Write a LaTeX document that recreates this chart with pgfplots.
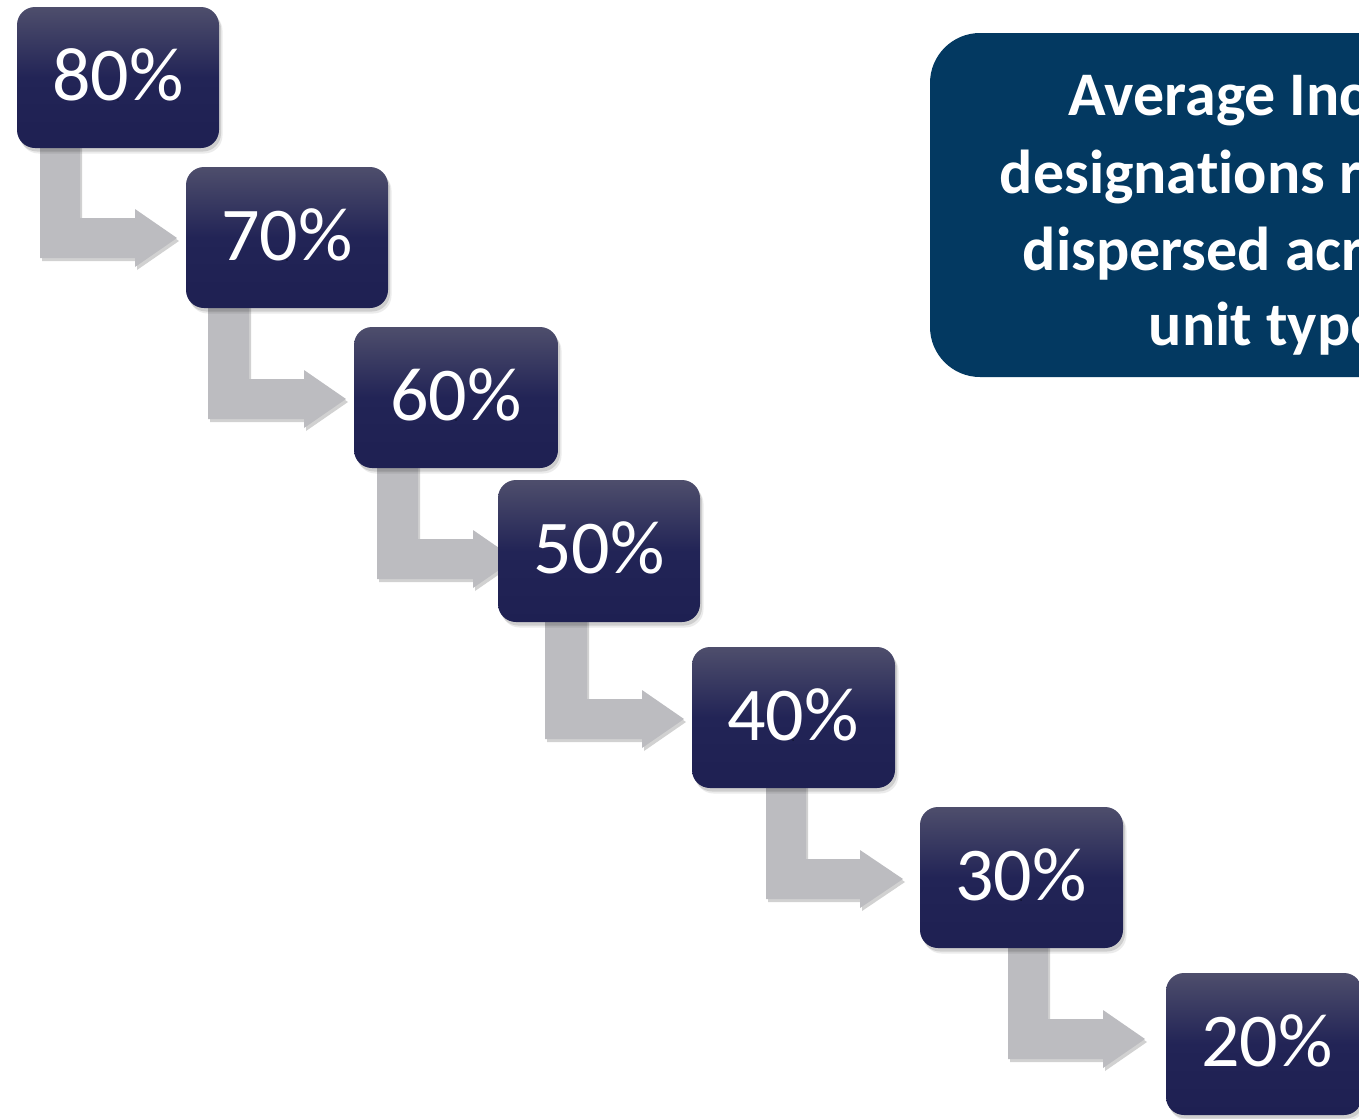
\documentclass[border=0pt]{standalone}
\usepackage{pgfplots}
\pgfplotsset{compat=1.18}
\usepackage{fontspec}
\setmainfont{Carlito}[Ligatures={NoCommon}]
\definecolor{arrowgray}{RGB}{188,188,192}
\definecolor{boxtop}{RGB}{78,78,108}
\definecolor{boxmid}{RGB}{34,36,86}
\definecolor{boxbot}{RGB}{30,32,82}
\definecolor{bigblue}{RGB}{3,57,97}
% rounded box: [opts]{L}{T}{R}{B}{M}
\newcommand{\rbox}[6][]{\addplot[mark=none,#1] coordinates {(#6,#3) (#4,#3) (#4,#5) (#2,#5) (#2,#3) (#6,#3)};}
\pgfplotstableread{
x y lab
118 100 80
287 260 70
456 420 60
599 573 50
793 740 40
1021 900 30
1267 1066 20
}\labels
\begin{document}
\begin{tikzpicture}
\useasboundingbox (0,0) rectangle (543.6pt,447.2pt);
\clip (0,0) rectangle (543.6pt,447.2pt);
\begin{axis}[at={(0,0)}, anchor=south west, scale only axis,
  width=543.6pt, height=447.2pt, xmin=0, xmax=1359, ymin=0, ymax=1118,
  y dir=reverse, hide axis, clip=false]
% big blue box
\rbox[fill=bigblue, draw=none, rounded corners=20pt]{930}{33}{1460}{377}{1200}
\node[anchor=base west, text=white, font=\bfseries\fontsize{24.8}{30}\selectfont] at (axis cs:1060,115) {Average Income};
\node[anchor=base west, text=white, font=\bfseries\fontsize{24.8}{30}\selectfont] at (axis cs:991,193) {designations remain};
\node[anchor=base west, text=white, font=\bfseries\fontsize{24.8}{30}\selectfont] at (axis cs:1014,270) {dispersed across};
\node[anchor=base west, text=white, font=\bfseries\fontsize{24.8}{30}\selectfont] at (axis cs:1140,345) {unit types};
% arrows: shadows
\pgfplotsset{arrsh/.style={mark=none, fill=black, fill opacity=0.18, draw=none, xshift=0.8pt, yshift=-1.2pt},
             arr/.style={mark=none, fill=arrowgray, draw=none}}
\addplot[arrsh] coordinates {(40,142) (80,142) (80,218) (135,218) (135,209) (177,238) (135,267) (135,258) (40,258)};
\addplot[arrsh] coordinates {(208,302) (249,302) (249,379) (304,379) (304,370) (346,399) (304,428) (304,419) (208,419)};
\addplot[arrsh] coordinates {(377,462) (418,462) (418,539) (473,539) (473,530) (515,559) (473,588) (473,579) (377,579)};
\addplot[arrsh] coordinates {(545,616) (587,616) (587,699) (642,699) (642,690) (684,719) (642,748) (642,739) (545,739)};
\addplot[arrsh] coordinates {(766,782) (806,782) (806,859) (860,859) (860,850) (903,879) (860,908) (860,899) (766,899)};
\addplot[arrsh] coordinates {(1008,942) (1048,942) (1048,1019) (1103,1019) (1103,1010) (1145,1039) (1103,1068) (1103,1059) (1008,1059)};
% arrows
\addplot[arr] coordinates {(40,142) (80,142) (80,218) (135,218) (135,209) (177,238) (135,267) (135,258) (40,258)};
\addplot[arr] coordinates {(208,302) (249,302) (249,379) (304,379) (304,370) (346,399) (304,428) (304,419) (208,419)};
\addplot[arr] coordinates {(377,462) (418,462) (418,539) (473,539) (473,530) (515,559) (473,588) (473,579) (377,579)};
\addplot[arr] coordinates {(545,616) (587,616) (587,699) (642,699) (642,690) (684,719) (642,748) (642,739) (545,739)};
\addplot[arr] coordinates {(766,782) (806,782) (806,859) (860,859) (860,850) (903,879) (860,908) (860,899) (766,899)};
\addplot[arr] coordinates {(1008,942) (1048,942) (1048,1019) (1103,1019) (1103,1010) (1145,1039) (1103,1068) (1103,1059) (1008,1059)};
% boxes
\pgfplotsset{bsh/.style={fill=black, fill opacity=0.12, draw=none, rounded corners=7.2pt, xshift=0.8pt, yshift=-1.4pt},
             bsh2/.style={fill=black, fill opacity=0.08, draw=none, rounded corners=7.2pt, xshift=1.4pt, yshift=-2.2pt},
             bx/.style={draw=none, rounded corners=7.2pt, top color=boxtop, bottom color=boxbot, middle color=boxmid}}
\rbox[bsh2]{17}{7}{219}{148}{118}
\rbox[bsh]{17}{7}{219}{148}{118}
\rbox[bx]{17}{7}{219}{148}{118}
\rbox[bsh2]{186}{167}{388}{308}{287}
\rbox[bsh]{186}{167}{388}{308}{287}
\rbox[bx]{186}{167}{388}{308}{287}
\rbox[bsh2]{354}{327}{558}{468}{456}
\rbox[bsh]{354}{327}{558}{468}{456}
\rbox[bx]{354}{327}{558}{468}{456}
\rbox[bsh2]{498}{480}{700}{622}{599}
\rbox[bsh]{498}{480}{700}{622}{599}
\rbox[bx]{498}{480}{700}{622}{599}
\rbox[bsh2]{692}{647}{895}{788}{793}
\rbox[bsh]{692}{647}{895}{788}{793}
\rbox[bx]{692}{647}{895}{788}{793}
\rbox[bsh2]{920}{807}{1123}{948}{1021}
\rbox[bsh]{920}{807}{1123}{948}{1021}
\rbox[bx]{920}{807}{1123}{948}{1021}
\rbox[bsh2]{1166}{973}{1362}{1115}{1264}
\rbox[bsh]{1166}{973}{1362}{1115}{1264}
\rbox[bx]{1166}{973}{1362}{1115}{1264}
% labels
\addplot[only marks, mark=*, mark size=0.01pt, mark options={draw=none, fill=none},
  point meta=explicit symbolic,
  nodes near coords={\pgfplotspointmeta\%},
  nodes near coords align={anchor=base},
  every node near coord/.append style={anchor=base, text=white, inner sep=0pt, font=\fontsize{30.4}{36}\selectfont}]
  table[x=x, y=y, meta=lab] {\labels};
\end{axis}
\end{tikzpicture}
\end{document}
